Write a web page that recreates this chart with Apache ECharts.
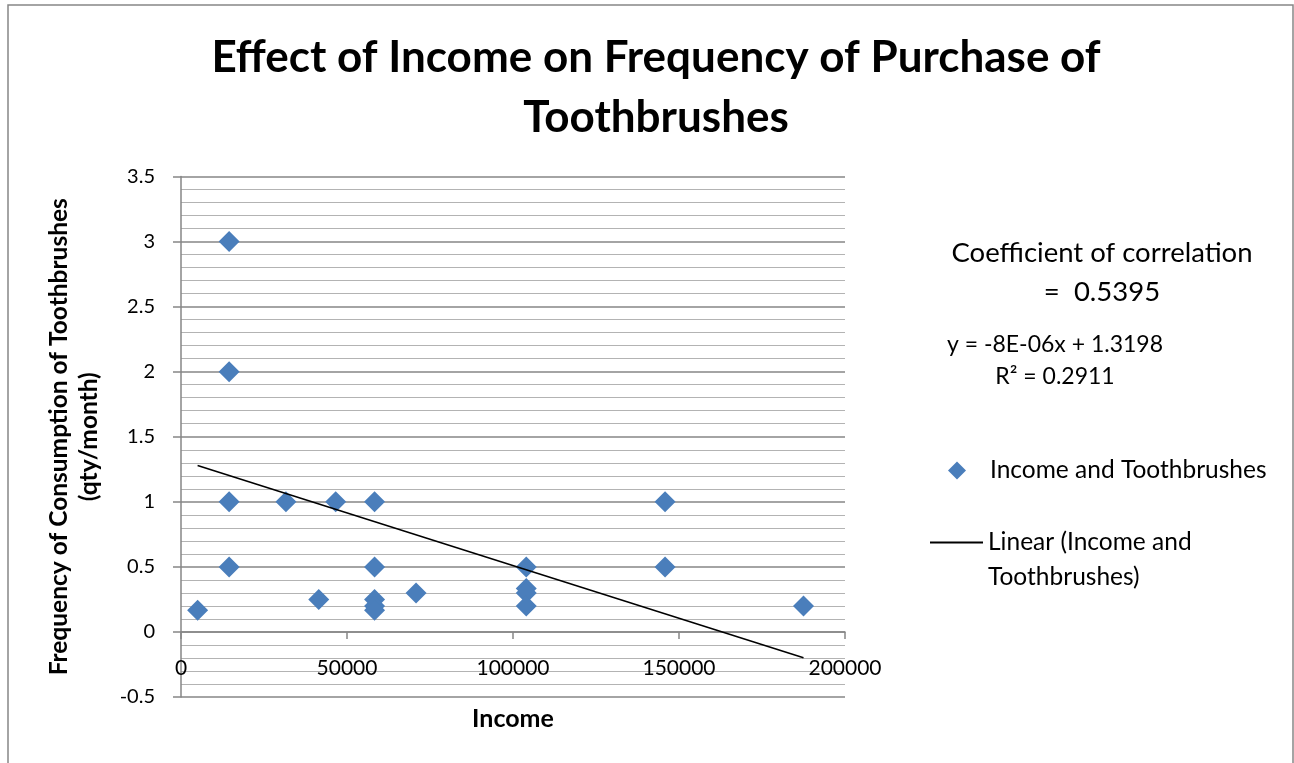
<!DOCTYPE html>
<html style="height: 100%">
<head>
<meta charset="utf-8"/>
<script type="text/javascript" src="https://cdn.jsdelivr.net/npm/echarts@6/dist/echarts.min.js"></script>
</head>
<body style="height: 100%; margin: 0; background: #fff">
<div id="container" style="width: 1294px; height: 763px"></div>
<script type="text/javascript">
// income (x) and toothbrushes per month (y)
var incomes = [5000, 14500, 14500, 14500, 14500, 31600, 41500, 46600, 58300, 58300, 58300, 58300, 58300, 70800, 104000, 104000, 104000, 104000, 145800, 145800, 187500];
var brushes = [0.167, 3, 2, 1, 0.5, 1, 0.25, 1, 1, 0.5, 0.25, 0.2, 0.167, 0.3, 0.5, 0.333, 0.3, 0.2, 1, 0.5, 0.2];

// trendline as printed: y = -8E-06x + 1.3198
var trendSlope = -8.1e-6;
var trendIntercept = 1.3198;

var yTicks = { min: -0.5, max: 3.5, step: 0.5 };
var xTicks = { min: 0, max: 200000, step: 50000 };

var seriesName = "Income and Toothbrushes";
var trendName = "Linear (Income and Toothbrushes)";

var points = [];
for (var i = 0; i < incomes.length; i++) {
	points.push([incomes[i], brushes[i]]);
}
var xLo = Math.min.apply(null, incomes);
var xHi = Math.max.apply(null, incomes);
var trendPoints = [
	[xLo, trendSlope * xLo + trendIntercept],
	[xHi, trendSlope * xHi + trendIntercept]
];

var font = "Lato";
var grey = "#868686";

// the x axis sits on y = 0: lift it from the grid bottom by that many px
var gridTop = 176.5, gridBottom = 66;
var plotHeight = 763 - gridTop - gridBottom;
var zeroLift = plotHeight * (0 - yTicks.min) / (yTicks.max - yTicks.min);

var myChart = echarts.init(document.getElementById("container"));
var option = {
	animation: false,
	backgroundColor: "#fff",
	textStyle: { fontFamily: font },
	title: {
		text: "Effect of Income on Frequency of Purchase of\nToothbrushes",
		left: 651,
		textAlign: "center",
		top: 23,
		textStyle: { fontFamily: font, fontSize: 44, fontWeight: "bold", color: "#000", lineHeight: 60 }
	},
	grid: { left: 181, right: 449, top: gridTop, bottom: gridBottom, outerBoundsMode: "none", containLabel: false },
	xAxis: {
		type: "value",
		min: xTicks.min, max: xTicks.max, interval: xTicks.step,
		offset: -zeroLift,
		name: "Income",
		nameLocation: "middle",
		nameGap: 74,
		nameTextStyle: { fontFamily: font, fontSize: 25, fontWeight: "bold", color: "#000" },
		axisLine: { show: true, onZero: false, lineStyle: { color: grey, width: 1.5 } },
		axisTick: { show: true, length: 7, lineStyle: { color: grey, width: 1.5 } },
		axisLabel: {
			margin: 26, fontSize: 21, color: "#000", fontFamily: font,
			formatter: function (v) { return String(v); }
		},
		splitLine: { show: false }
	},
	yAxis: {
		type: "value",
		min: yTicks.min, max: yTicks.max, interval: yTicks.step,
		name: "Frequency of Consumption of Toothbrushes\n(qty/month)",
		nameLocation: "middle",
		nameRotate: 90,
		nameGap: 77,
		nameTextStyle: { fontFamily: font, fontSize: 24.5, fontWeight: "bold", color: "#000", lineHeight: 30 },
		axisLine: { show: true, onZero: false, lineStyle: { color: grey, width: 1.5 } },
		axisTick: { show: true, length: 8, lineStyle: { color: grey, width: 1.5 } },
		axisLabel: { margin: 26, fontSize: 20, color: "#000", fontFamily: font },
		splitLine: { show: true, lineStyle: { color: grey, width: 1.5 } },
		minorTick: { show: false, splitNumber: 5 },
		minorSplitLine: { show: true, lineStyle: { color: "#b3b3b3", width: 1 } }
	},
	legend: [{
		data: [seriesName],
		orient: "vertical",
		left: 948, top: 458,
		padding: 0,
		itemWidth: 18, itemHeight: 18,
		textStyle: { fontFamily: font, fontSize: 24.5, color: "#000", padding: [0, 0, 0, 19] }
	}, {
		data: [{ name: trendName, icon: "rect" }],
		orient: "vertical",
		left: 930, top: 490,
		padding: 0,
		itemWidth: 53, itemHeight: 2,
		formatter: function (name) { return "\nLinear (Income and\nToothbrushes)"; },
		textStyle: { fontFamily: font, fontSize: 24.5, color: "#000", lineHeight: 35 }
	}],
	graphic: [{
		type: "rect",
		shape: { x: 8, y: 5, width: 1285, height: 800 },
		style: { fill: null, stroke: grey, lineWidth: 1.5 },
		silent: true, z: -10
	}, {
		type: "text",
		x: 1102, y: 253,
		style: { text: "Coefficient of correlation", fontFamily: font, fontSize: 27.5, fill: "#000", align: "center", verticalAlign: "middle" }
	}, {
		type: "text",
		x: 1102, y: 292,
		style: { text: "=  0.5395", fontFamily: font, fontSize: 27.5, fill: "#000", align: "center", verticalAlign: "middle" }
	}, {
		type: "text",
		x: 1055, y: 345,
		style: { text: "y = -8E-06x + 1.3198", fontFamily: font, fontSize: 23, fill: "#000", align: "center", verticalAlign: "middle" }
	}, {
		type: "text",
		x: 1055, y: 377,
		style: { text: "R\u00b2 = 0.2911", fontFamily: font, fontSize: 23, fill: "#000", align: "center", verticalAlign: "middle" }
	}],
	series: [{
		name: seriesName,
		type: "scatter",
		symbol: "diamond",
		symbolSize: 21,
		itemStyle: { color: "#4a7ebb", opacity: 1 },
		data: points,
		z: 3
	}, {
		name: trendName,
		type: "line",
		symbol: "none",
		lineStyle: { color: "#000", width: 1.5 },
		itemStyle: { color: "#000" },
		data: trendPoints,
		z: 4
	}]
};
myChart.setOption(option);
</script>
</body>
</html>
